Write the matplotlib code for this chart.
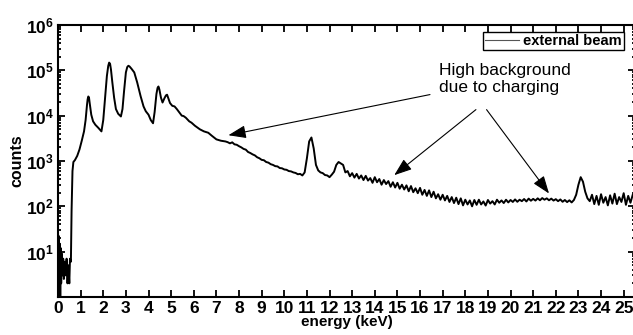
import numpy as np
import matplotlib
matplotlib.use("Agg")
import matplotlib.pyplot as plt
from matplotlib.lines import Line2D
from matplotlib.ticker import FixedLocator, LogLocator, NullFormatter, FuncFormatter

plt.rcParams['font.family'] = ['Liberation Sans', 'DejaVu Sans']
plt.rcParams['mathtext.fontset'] = 'custom'
plt.rcParams['mathtext.rm'] = 'Liberation Sans:bold'
plt.rcParams['mathtext.bf'] = 'Liberation Sans:bold'

# low energy part (peaks)
energy_low = [0.00, 0.02, 0.04, 0.06, 0.08, 0.10, 0.12, 0.14, 0.17, 0.20,
              0.23, 0.26, 0.30, 0.34, 0.38, 0.42, 0.46, 0.50, 0.53, 0.57,
              0.60, 0.64, 0.68, 0.75, 0.85, 0.95, 1.05, 1.15, 1.22, 1.28,
              1.31, 1.34, 1.37, 1.40, 1.47, 1.55, 1.65, 1.78, 1.92, 2.00,
              2.08, 2.16, 2.22, 2.26, 2.30, 2.34, 2.40, 2.48, 2.56, 2.66,
              2.78, 2.85, 2.92, 3.00, 3.06, 3.11, 3.16, 3.25, 3.37, 3.50,
              3.65, 3.78, 3.88, 4.00, 4.10, 4.20, 4.27, 4.35, 4.40, 4.44,
              4.48, 4.55, 4.62, 4.70, 4.77, 4.82, 4.88, 4.95, 5.05, 5.15,
              5.25, 5.35, 5.47, 5.55, 5.65, 5.80, 5.90, 6.05, 6.27, 6.45,
              6.64, 6.80, 7.00, 7.20, 7.40]
counts_low = [30, 4, 22, 3, 15, 1.0, 12, 2, 9, 3,
              7, 2.5, 6, 3, 7, 2, 5, 2, 7, 6,
              80, 600, 950, 1050, 1300, 1800, 2800, 4500, 8000, 17000,
              23000, 26500, 25000, 19000, 10500, 7500, 6300, 5400, 4500, 8000,
              25000, 75000, 125000, 148000, 140000, 105000, 55000, 25000, 14000, 11000,
              9600, 14000, 35000, 90000, 118000, 126000, 122000, 108000, 90000, 54000,
              27000, 16000, 12500, 10500, 8000, 6800, 12000, 30000, 41000, 44000,
              38000, 25000, 19500, 24000, 28000, 29000, 24000, 19000, 16500, 16000,
              14000, 12000, 10000, 9800, 9000, 7500, 7000, 6000, 5000, 4500,
              4200, 3600, 3000, 2800, 2700]

# background part, one channel every 0.1 keV from 7.5 keV
energy_bg = np.round(np.arange(7.5, 25.45, 0.1), 2)
counts_bg = [2600, 2450, 2580, 2330, 2280, 2120, 2000, 1850, 1780, 1580,
             1500, 1400, 1330, 1210, 1150, 1060, 1040, 950, 920, 850,
             820, 770, 760, 700, 690, 650, 640, 600, 590, 560,
             545, 510, 520, 480, 560, 1150, 2700, 3300, 1900, 820,
             620, 560, 540, 490, 480, 440, 500, 580, 820, 950,
             880, 820, 560, 600, 460, 540, 430, 520, 410, 480,
             380, 470, 370, 420, 330, 440, 340, 400, 300, 380,
             310, 360, 270, 340, 260, 330, 245, 300, 235, 290,
             215, 280, 205, 250, 195, 255, 180, 230, 170, 225,
             160, 210, 150, 185, 140, 180, 135, 170, 125, 160,
             118, 155, 112, 150, 105, 140, 110, 135, 100, 138,
             108, 140, 110, 128, 104, 138, 115, 130, 110, 140,
             120, 135, 118, 140, 122, 138, 125, 142, 126, 140,
             130, 145, 128, 148, 133, 146, 134, 150, 136, 152,
             140, 150, 136, 148, 134, 144, 130, 142, 126, 138,
             124, 136, 122, 138, 180, 300, 440, 350, 210, 150,
             130, 180, 112, 170, 108, 185, 120, 160, 105, 175,
             115, 190, 112, 160, 125, 195, 108, 170, 120, 180]

energy = list(energy_low) + list(energy_bg)
counts = list(counts_low) + list(counts_bg)

y_ticks = [1e1, 1e2, 1e3, 1e4, 1e5, 1e6]
x_ticks = list(range(0, 26))

fig = plt.figure(figsize=(6.33, 3.35), dpi=100)
ax = fig.add_axes([58 / 633, 1 - 297 / 335, 577 / 633, 272 / 335])

ax.plot(energy, counts, color='black', lw=1.4)
ax.set_yscale('log')
ax.set_xlim(0, 25.5)
ax.set_ylim(1, 1e6)

ax.xaxis.set_major_locator(FixedLocator(x_ticks))
ax.yaxis.set_major_locator(FixedLocator(y_ticks))
ax.yaxis.set_minor_locator(LogLocator(base=10, subs=np.arange(2, 10), numticks=20))
ax.yaxis.set_minor_formatter(NullFormatter())
ax.yaxis.set_major_formatter(FuncFormatter(lambda v, p: r'$\mathbf{10^{%d}}$' % round(np.log10(v))))

ax.tick_params(which='both', direction='in', top=True, right=True, width=1.3)
ax.tick_params(which='major', length=5, labelsize=12.5, pad=3)
ax.tick_params(which='minor', length=2.5)
for lab in ax.get_xticklabels():
    lab.set_fontweight('bold')
for sp in ax.spines.values():
    sp.set_linewidth(1.5)

ax.set_xlabel('energy (keV)', fontsize=11, fontweight='bold', labelpad=-1)
ax.set_ylabel('counts', fontsize=11.5, fontweight='bold', labelpad=1)

handle = Line2D([], [], color='#555555', lw=0.8)
leg = ax.legend([handle], ['external beam'], loc='upper right',
                bbox_to_anchor=(624 / 633, 1 - 32 / 335), bbox_transform=fig.transFigure,
                borderaxespad=0, fancybox=False, framealpha=1, edgecolor='black',
                handlelength=2.3, handletextpad=0.3, borderpad=0.15,
                prop={'weight': 'bold', 'size': 10.5})
leg.get_frame().set_linewidth(1.0)

ax.text(16.84, 10 ** 5.17, 'High background\ndue to charging', fontsize=12.5,
        ha='left', va='top', linespacing=1.2)
arrow = dict(arrowstyle='-|>,head_length=0.6,head_width=0.22', color='black',
             lw=0.8, shrinkA=0, shrinkB=0, mutation_scale=18)
ax.annotate('', xy=(7.53, 3700), xytext=(16.44, 29200), arrowprops=arrow)
ax.annotate('', xy=(14.86, 487), xytext=(18.47, 13600), arrowprops=arrow)
ax.annotate('', xy=(21.70, 192), xytext=(18.94, 13600), arrowprops=arrow)

fig.savefig('out.png', dpi=100)
